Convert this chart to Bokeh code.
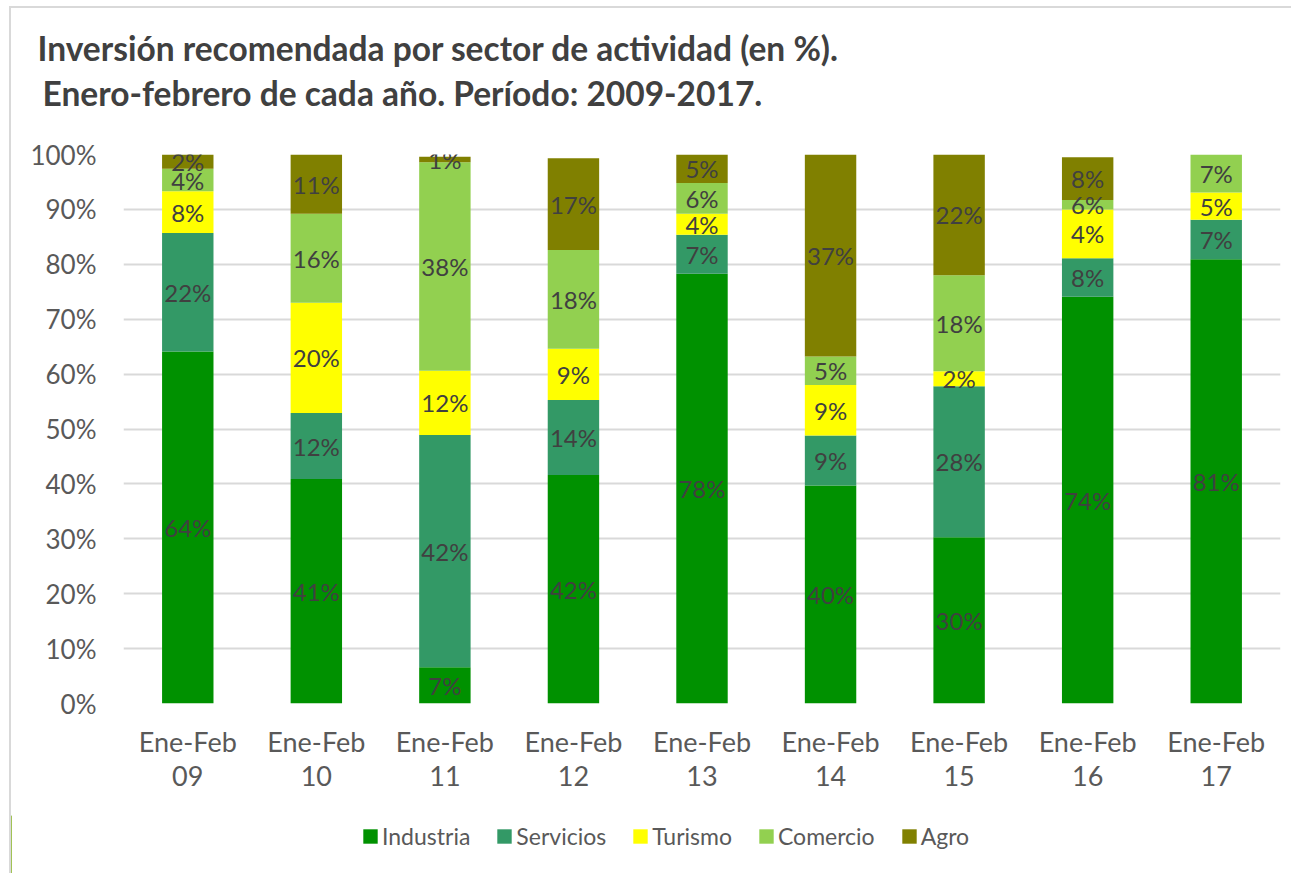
from bokeh.plotting import figure
from bokeh.layouts import column
from bokeh.models import (ColumnDataSource, Range1d, FixedTicker, SingleIntervalTicker,
                          PrintfTickFormatter, Legend, LegendItem, LabelSet, Label)
from bokeh.core.properties import value
from bokeh.embed import file_html
from bokeh.resources import INLINE

# ---------------- data ----------------
periods = ["Ene-Feb\n09", "Ene-Feb\n10", "Ene-Feb\n11", "Ene-Feb\n12", "Ene-Feb\n13",
           "Ene-Feb\n14", "Ene-Feb\n15", "Ene-Feb\n16", "Ene-Feb\n17"]
sectors = ["Industria", "Servicios", "Turismo", "Comercio", "Agro"]

industria = [64.1, 40.9, 6.6, 41.6, 78.3, 39.7, 30.3, 74.1, 80.9]
servicios = [21.6, 12.0, 42.3, 13.7, 7.1, 9.1, 27.5, 7.0, 7.2]
turismo = [7.6, 20.1, 11.7, 9.3, 3.8, 9.2, 2.7, 8.9, 5.0]
comercio = [4.1, 16.2, 38.0, 18.0, 5.6, 5.2, 17.5, 1.7, 6.9]
agro = [2.6, 10.8, 1.0, 16.7, 5.2, 36.8, 22.0, 7.8, 0.0]

# data labels as printed on the chart
industria_lbl = ["64%", "41%", "7%", "42%", "78%", "40%", "30%", "74%", "81%"]
servicios_lbl = ["22%", "12%", "42%", "14%", "7%", "9%", "28%", "8%", "7%"]
turismo_lbl = ["8%", "20%", "12%", "9%", "4%", "9%", "2%", "4%", "5%"]
comercio_lbl = ["4%", "16%", "38%", "18%", "6%", "5%", "18%", "6%", "7%"]
agro_lbl = ["2%", "11%", "1%", "17%", "5%", "37%", "22%", "8%", ""]

title_1 = "Inversión recomendada  por sector de actividad (en %)."
title_2 = "Enero-febrero de cada año. Período: 2009-2017."

colors = ["#009100", "#339966", "#FFFF00", "#92D050", "#808000"]

FONT = "Lato"
TXT = "#404040"
AX = "#595959"
W = 1280

series = [industria, servicios, turismo, comercio, agro]
labels = [industria_lbl, servicios_lbl, turismo_lbl, comercio_lbl, agro_lbl]


def bare(height):
    f = figure(width=W, height=height, output_backend="svg", toolbar_location=None,
               title=None, x_axis_location=None, y_axis_location=None,
               x_range=Range1d(0, 1), y_range=Range1d(0, 1), min_border=0,
               outline_line_color=None, background_fill_color="white",
               border_fill_color="white", frame_align=False)
    f.grid.visible = False
    return f


# ---------------- title block ----------------
pt = bare(126)
pt.add_layout(Label(x=26, y=87, x_units="screen", y_units="screen", text=title_1,
                    text_font=FONT, text_font_style="bold", text_font_size="33.5px",
                    text_color=TXT, text_baseline="middle", text_align="left"))
pt.add_layout(Label(x=31, y=42, x_units="screen", y_units="screen", text=title_2,
                    text_font=FONT, text_font_style="bold", text_font_size="33.5px",
                    text_color=TXT, text_baseline="middle", text_align="left"))

# ---------------- main chart ----------------
xs = list(range(len(periods)))
data = {"x": xs}
for name, vals in zip(sectors, series):
    data[name] = vals
source = ColumnDataSource(data)

p = figure(width=W, height=681, output_backend="svg", toolbar_location=None,
           title=None, frame_align=False,
           x_range=Range1d(-0.5, len(periods) - 0.5), y_range=Range1d(0, 100),
           min_border_left=112, min_border_right=11, min_border_top=20,
           min_border_bottom=112, background_fill_color="white",
           border_fill_color="white", outline_line_color=None)

renderers = p.vbar_stack(sectors, x="x", width=0.4, source=source, color=colors,
                         line_color=None)

for i, (vals, lbls) in enumerate(zip(series, labels)):
    ys = []
    for j in range(len(xs)):
        base = sum(series[k][j] for k in range(i))
        ys.append(base + vals[j] / 2.0)
    lsrc = ColumnDataSource({"x": xs, "y": ys, "t": lbls})
    p.add_layout(LabelSet(x="x", y="y", text="t", source=lsrc, text_align="center",
                          text_baseline="middle", text_font=value(FONT),
                          text_font_size=value("24px"), text_color=TXT))

p.xaxis.ticker = FixedTicker(ticks=xs)
p.xaxis.major_label_overrides = {i: lab for i, lab in enumerate(periods)}
p.xaxis.major_label_text_font = FONT
p.xaxis.major_label_text_font_size = "27px"
p.xaxis.major_label_text_line_height = 1.05
p.xaxis.major_label_text_color = AX
p.xaxis.major_label_standoff = 15
p.xaxis.axis_line_color = None
p.xaxis.major_tick_line_color = None
p.xaxis.minor_tick_line_color = None

p.yaxis.ticker = SingleIntervalTicker(interval=10)
p.yaxis.formatter = PrintfTickFormatter(format="%d%%")
p.yaxis.major_label_text_font = FONT
p.yaxis.major_label_text_font_size = "26px"
p.yaxis.major_label_text_color = AX
p.yaxis.major_label_standoff = 21
p.yaxis.axis_line_color = None
p.yaxis.major_tick_line_color = None
p.yaxis.minor_tick_line_color = None

p.xgrid.grid_line_color = None
p.ygrid.grid_line_color = "#D9D9D9"
p.ygrid.grid_line_width = 2

# ---------------- legend block ----------------
pl = bare(58)
leg_src = ColumnDataSource({"x": [-5.0], "top": [1.0]})
leg_renderers = [pl.vbar(x="x", top="top", width=0.4, source=leg_src, color=c,
                         line_color=None) for c in colors]
items = [LegendItem(label=name, renderers=[r]) for name, r in zip(sectors, leg_renderers)]
legend = Legend(items=items, orientation="horizontal", location=(350, 23),
                padding=0, margin=0, spacing=25, glyph_width=18, glyph_height=18,
                label_standoff=3, label_text_font=FONT, label_text_font_size="23px",
                label_text_color=AX, border_line_color=None, background_fill_alpha=0)
pl.add_layout(legend, "center")

layout = column(pt, p, pl, spacing=0)
layout.styles = {"border-top": "2px solid #D9D9D9", "border-left": "2px solid #D9D9D9",
                 "margin-top": "6px", "margin-left": "9px"}

open("out.html", "w").write(file_html(layout, INLINE))
